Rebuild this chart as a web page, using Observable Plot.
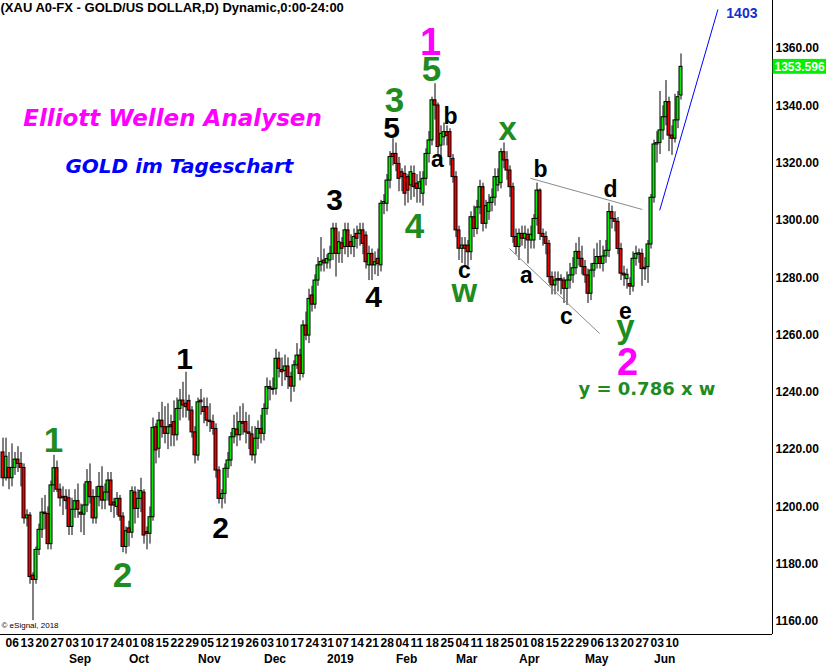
<!DOCTYPE html>
<html><head><meta charset="utf-8">
<script src="https://cdn.jsdelivr.net/npm/d3@7"></script>
<script src="https://cdn.jsdelivr.net/npm/@observablehq/plot@0.6"></script>
<style>
html,body{margin:0;padding:0;background:#fff;}
#chart svg{display:block;}
</style></head>
<body><div id="chart"></div>
<script>
// ---- Daily OHLC, XAU/USD, 2018-08-02 .. 2019-06-14 (weekdays) ----
const firstDate = "2018-08-02";
const open = [
1219,1210,1213.6,1210,1213.6,1216.5,1215,1213.6,1196,1197,
1176,1174.5,1185,1192,1198,1197.5,1187,1207.5,1213.5,1206,
1203,1203.5,1203,1193,1199,1202,1198,1197.3,1200.5,1208.6,
1203.4,1196,1203.4,1207,1202.2,1205,1209.2,1201.5,1200,1202.8,
1196.6,1186,1192.5,1191,1205,1199.3,1202.8,1205,1191.2,1190.6,
1196.4,1227.8,1220.3,1230.1,1227.8,1225.5,1228.5,1229.6,1225,1234.2,
1237.1,1236,1237,1233.6,1226,1217.9,1237.1,1234.8,1234.8,1230.1,
1229.6,1227.2,1212.7,1202.8,1204.5,1213.3,1216.2,1224.3,1227,1225,
1229.6,1229.6,1226,1225.3,1218,1223.8,1227.2,1225.5,1234.2,1241.8,
1241.2,1241.2,1251.7,1247.8,1247.4,1249,1245.3,1242,1249.4,1252.8,
1246.4,1263.3,1259.8,1273.8,1270.6,1279,1284.3,1286,1285,1286,
1288.3,1297.1,1288.3,1292,1290.7,1296.5,1292.4,1290.7,1295.3,1295.3,
1296.5,1294.7,1284.3,1288.3,1284.3,1286.6,1284.3,1305.8,1305.8,1313.9,
1323.2,1323.2,1319.7,1316.8,1316.2,1315.1,1312.2,1316.2,1312.8,1311,
1309.3,1314.5,1323.2,1327.9,1341.9,1340.1,1326.1,1329,1330.8,1330.8,
1321.5,1315.1,1296.5,1290.1,1291.2,1291.2,1288.9,1301.1,1297,1304.5,
1311.6,1298.8,1303,1306.1,1307.9,1312.2,1313,1323.8,1321,1317.4,
1311.6,1294.2,1290.7,1295.3,1293.6,1295,1293,1293,1300.5,1310.4,
1295.3,1294.2,1291.8,1280.2,1277.3,1279.5,1279.5,1279,1276.1,1279,
1280.8,1283.3,1289,1286.6,1283.7,1280.8,1274.4,1282.5,1284.8,1287.2,
1284.8,1287.4,1289.4,1302.9,1300.5,1299.5,1290,1281.4,1279.5,1277.8,
1276.9,1286.6,1288,1288.3,1283.5,1283.7,1291.6,1307.9,1326.5,1327,
1331.4,1336,1341.3,1329.6,1328.5,1334.9,1343.6];
const high = [
1224,1224,1219,1222,1219,1221,1219,1215,1199,1198,
1177,1186,1194,1203,1204,1200,1209,1218,1216,1208,
1207,1206,1206,1203,1206,1208,1201,1208,1213,1215,
1206,1207,1212,1214,1208,1212,1212,1203,1205,1204,
1198,1193,1195,1207,1207,1206,1210,1206,1193,1200,
1231,1229,1233,1236.5,1235,1236,1232,1237,1238,1241,
1243.5,1247,1239,1235,1228,1238,1241,1238,1238,1236,
1232,1229,1214,1206,1215,1219,1226,1232,1233,1235,
1236,1233,1232,1228,1228,1230,1232,1236,1245,1244,
1245,1255,1254,1252,1253,1252,1247,1251,1257,1255,
1265,1268,1276,1277,1281,1287,1294,1290,1288,1291,
1299,1299,1296,1294,1299,1299,1295,1297,1298,1299,
1299,1296,1291,1290,1289,1290,1307,1309,1316,1324,
1328.5,1327,1322,1318,1319,1316,1319,1319,1316,1317,
1317,1325,1331,1343,1347.7,1341,1333,1334,1333,1332,
1323,1317,1298,1294,1294,1293,1303,1305,1307,1314,
1313,1307,1309,1311,1318,1318,1325,1327,1324,1319,
1313,1297,1297,1298,1298,1297,1298,1302,1313,1311,
1297,1296,1293,1282,1282,1282,1281,1280,1282,1285,
1287,1292,1294,1291,1286,1283,1285,1290,1292,1293,
1291,1293,1306,1305,1303,1301,1292,1284,1283,1280,
1289,1291,1290,1290,1287,1293,1309,1328,1331,1345,
1340,1348.8,1343,1333,1344,1345,1358.1];
const low = [
1207,1209,1206,1207,1211,1212,1207,1194,1193,1173,
1160.3,1173,1183,1189,1192,1185,1185,1205,1205,1200,
1197,1199,1190,1190,1196,1196,1191,1190,1198,1201,
1194,1194,1200,1199,1199,1202,1198,1196,1197,1195,
1184,1183.5,1186,1189,1194,1196,1198,1187,1185,1187,
1195,1215,1217,1224,1222,1220,1221,1221,1223,1230,
1231,1231,1230,1224,1215,1216,1232,1229,1228,1226,
1225,1210,1201,1199.3,1201,1210,1214,1222,1221,1223,
1225,1222,1220,1216,1215,1220,1222,1223,1232,1237,
1239,1239,1245,1242,1244,1241,1236.5,1240,1248,1244,
1245,1258,1257,1268,1269,1277,1282,1282,1283,1283,
1286,1280.2,1285,1285,1288,1287,1288,1287,1290,1291,
1288,1283,1279,1279,1281,1280.4,1282,1302,1303,1311,
1319,1317,1310,1310,1305,1306,1307,1308,1306,1306,
1305,1312,1320,1326,1335,1322,1322,1326,1326,1319,
1313,1294,1286,1285,1284,1284,1286,1294,1295,1302,
1296,1297,1300,1303,1305,1310,1311,1318,1314,1308,
1292,1288,1286,1291,1290,1284.8,1290,1290,1298,1293,
1291,1288,1278,1274,1274,1275,1274,1271,1270.3,1276,
1278,1281,1284,1281,1278,1271,1272,1280,1283,1283,
1282,1285,1287,1297,1296,1288,1279,1277,1276,1273.8,
1275,1284,1285,1277,1279,1278,1290,1306,1320,1323,
1328,1333,1324,1322.7,1327,1332,1342];
const close = [
1210,1217.5,1210,1213.6,1216.5,1215,1213.6,1196,1197,1175.5,
1174.5,1185,1192,1198,1197.5,1187,1207.5,1213.5,1206,1203,
1203.5,1202,1193,1199,1202,1199,1197.3,1200.5,1208.6,1203.4,
1196,1203.4,1207,1202.2,1205,1209.2,1200.5,1200.5,1202.8,1196.6,
1186,1191.5,1191,1205.5,1199.3,1202.8,1205.5,1190,1190.6,1196.4,
1227.6,1219.7,1230.1,1227.8,1225.5,1227.8,1227.8,1225,1234.2,1237.1,
1235.4,1234.8,1233.6,1226,1218,1236.5,1236.5,1233.1,1230.1,1229.6,
1227.2,1212.7,1202.8,1204.5,1213.3,1216.2,1224.3,1227.2,1225,1229.6,
1229,1226,1225.5,1218,1223.8,1227.2,1225.5,1234.2,1241.8,1241.2,
1241.5,1251.7,1248.2,1247,1249,1245.3,1242,1249.4,1252.8,1246.4,
1263.3,1259.8,1272.6,1270.6,1279,1284.3,1285.5,1285,1286.5,1288.3,
1297.1,1288.3,1292.4,1290.1,1296.5,1290.7,1290.7,1294.2,1293.6,1296.5,
1291.8,1285.4,1288.3,1284.3,1285.4,1284.8,1305.8,1306.4,1313.9,1322.1,
1322.1,1319.7,1314.5,1315.1,1309.3,1310.4,1316.8,1311.6,1311,1313.3,
1314.5,1323.2,1327.9,1341.9,1340.1,1325.6,1330.2,1330.8,1329.5,1322.1,
1315.1,1296.5,1290.1,1291.2,1290.1,1288.9,1301.1,1297,1304.5,1311.6,
1298.8,1305,1306.1,1307.9,1315.1,1315.1,1323.8,1320.9,1317.4,1311.6,
1294.2,1290.7,1295.3,1293.6,1295.3,1293,1295,1300.5,1310.4,1295.3,
1294.2,1291.8,1280.2,1277.3,1279,1279,1279,1276.1,1279,1280.8,
1283.3,1289,1286.6,1283.7,1280.8,1274.4,1282.5,1284.8,1287.2,1284.8,
1287.4,1289.4,1302.9,1300.5,1299.5,1290,1281.4,1280.8,1281,1276.9,
1286.6,1288.3,1288.5,1283,1283,1291.6,1307.9,1326.5,1327,1331.4,
1336,1341.3,1329.6,1328.5,1334.9,1343,1353.6];
const lastTick = 1353.596;

// ---- axis labels ----
const yTicks = [1160,1180,1200,1220,1240,1260,1280,1300,1320,1340,1360];
const dayTicks = ["06","13","20","27","03","10","17","24","01","08","15","22","29",
  "05","12","19","26","03","10","17","24","31","07","14","21","28","04","11","18","25",
  "04","11","18","25","01","08","15","22","29","06","13","20","27","03","10"];
const monthTicks = ["Sep","Oct","Nov","Dec","2019","Feb","Mar","Apr","May","Jun"];
const monthDates = ["2018-09-03","2018-10-01","2018-11-01","2018-12-03","2019-01-01",
  "2019-02-01","2019-03-01","2019-04-01","2019-05-01","2019-06-03"];

// ---- Elliott wave annotations (slot = trading-day number, price = baseline level) ----
const waveText  = ["1","2", "5","3","4","1","2", "w","x","y", "5","3","4","1","2",
                   "b","a","c","b","d","a","c","e"];
const waveSlot  = [143.5,209.2, 143.8,131.5,138.2,17.8,40.8, 154.8,169.2,208.5,
                   130.5,111.5,124.5,61.5,73.5, 150.2,145.8,154.8,180.2,203.5,175.5,188.8,208.5];
const wavePrice = [1357.8,1246.1, 1348.6,1337.7,1293.7,1219.3,1172.2, 1271.5,1328.2,1259.1,
                   1328.9,1303.5,1269.6,1248,1189.3, 1333.5,1318.5,1279.8,1315,1308,1278.3,1263.7,1265.6];
const waveDegree = ["pink","pink","green","green","green","green","green","greenL","greenL","greenL",
                   "black","black","black","black","black","abc","abc","abc","abc","abc","abc","abc","abc"];
// trend lines: [slot1, price1, slot2, price2]
const upperLine = [176.8,1314.7,214.1,1303.8];
const lowerLine = [169.8,1290.2,199.9,1260.5];
const targetLine = [219.9,1303.5,239.3,1373.6];
const targetText = "1403";

// ---- helpers ----
const isWd = d => { const w = d.getUTCDay(); return w > 0 && w < 6; };
function slotOf(s) {
  const d = new Date("2018-08-01T00:00:00Z"), t = new Date(s + "T00:00:00Z");
  let k = 0;
  while (d < t) { d.setUTCDate(d.getUTCDate() + 1); if (isWd(d)) k++; }
  return k;
}
const dates = [];
{ const d = new Date(firstDate + "T00:00:00Z");
  while (dates.length < close.length) { if (isWd(d)) dates.push(new Date(d)); d.setUTCDate(d.getUTCDate() + 1); } }
const bars = close.map((c, k) => ({slot: k + 1, date: dates[k], o: open[k], h: high[k], l: low[k], c}));
const mondaySlots = bars.filter(b => b.date.getUTCDay() === 1).map(b => b.slot);
const weekMap = new Map(mondaySlots.map((s, k) => [s, dayTicks[k]]));
const monthSlots = monthDates.map(slotOf);
const monthMap = new Map(monthSlots.map((s, k) => [s, monthTicks[k]]));

const waves = waveText.map((t, k) => ({t, slot: waveSlot[k], price: wavePrice[k], kind: waveDegree[k]}));
const waveStyle = {
  pink:   {fill: "#ff00ff", fontSize: 38},
  green:  {fill: "#1f8c1f", fontSize: 35},
  greenL: {fill: "#1f8c1f", fontSize: 33},
  black:  {fill: "#000000", fontSize: 30},
  abc:    {fill: "#000000", fontSize: 23}
};

const X0 = 1/6, X1 = 257.5, Y0 = 1155.46, Y1 = 1376.75;
const GREEN = "#00ee00", RED = "#f00000";
const body2 = d => Math.abs(d.c - d.o) < 0.35 ? d.o - 0.35 : d.c;
const FONT = "Arial, 'Liberation Sans', Helvetica, sans-serif";
const WIDE = "'DejaVu Sans', Verdana, sans-serif";

const marks = [
  // frame (right + bottom)
  Plot.ruleX([X1], {y1: Y0, y2: Y1, stroke: "#000", strokeWidth: 1}),
  Plot.ruleY([Y0], {x1: X0, x2: X1, stroke: "#000", strokeWidth: 1}),
  // axes
  Plot.axisY({anchor: "right", ticks: yTicks, tickSize: 0, tickPadding: 3, label: null,
    tickFormat: d => d.toFixed(2), fontSize: 12, fontWeight: "bold", fill: "#000"}),
  Plot.axisX({anchor: "bottom", ticks: mondaySlots, tickSize: 0, tickPadding: 4, label: null,
    tickFormat: s => weekMap.get(s), textAnchor: "start", dx: -3.5, fontSize: 12, fontWeight: "bold", fill: "#000"}),
  Plot.axisX({anchor: "bottom", ticks: monthSlots, tickSize: 0, tickPadding: 20, label: null,
    tickFormat: s => monthMap.get(s), textAnchor: "start", fontSize: 12, fontWeight: "bold", fill: "#000"}),
  // candles
  Plot.ruleX(bars, {x: "slot", y1: "l", y2: "h", stroke: "#000", strokeWidth: 1}),
  Plot.rect(bars.filter(d => d.c >= d.o), {x1: d => d.slot - 0.5, x2: d => d.slot + 0.5, y1: "o", y2: body2,
    fill: GREEN, stroke: "#000", strokeWidth: 1}),
  Plot.rect(bars.filter(d => d.c < d.o), {x1: d => d.slot - 0.5, x2: d => d.slot + 0.5, y1: "o", y2: body2,
    fill: RED, stroke: "#000", strokeWidth: 1}),
  // trend lines
  Plot.link([upperLine, lowerLine], {x1: d => d[0], y1: d => d[1], x2: d => d[2], y2: d => d[3],
    stroke: "#8a8a8a", strokeWidth: 1}),
  Plot.link([targetLine], {x1: d => d[0], y1: d => d[1], x2: d => d[2], y2: d => d[3],
    stroke: "#0000ff", strokeWidth: 1}),
  Plot.text([targetText], {x: 247.3, y: 1370.7, text: d => d, fill: "#1030d0", fontSize: 14,
    fontWeight: "bold", lineAnchor: "bottom", textAnchor: "middle"}),
  // last price tag
  Plot.rect([lastTick], {x1: X1 + 0.2, x2: 276, y1: d => d - 2.6, y2: d => d + 2.6, fill: "#00f000"}),
  Plot.text([lastTick], {x: X1, y: d => d, text: d => d.toFixed(3), dx: 2, textAnchor: "start",
    fill: "#fff", fontSize: 12, fontWeight: "bold"}),
  // titles
  Plot.text(["(XAU A0-FX - GOLD/US DOLLAR,D) Dynamic,0:00-24:00"], {x: X0, y: 1372.9, text: d => d,
    textAnchor: "start", lineAnchor: "bottom", fontSize: 13, fontWeight: "bold", fill: "#000"}),
  Plot.text(["Elliott Wellen Analysen"], {x: 7.73, y: 1333.1, text: d => d, textAnchor: "start",
    lineAnchor: "bottom", fontSize: 23, fontWeight: "bold", fontStyle: "italic", fontFamily: WIDE, fill: "#ff00ff"}),
  Plot.text(["GOLD im Tageschart"], {x: 21.8, y: 1316.6, text: d => d, textAnchor: "start",
    lineAnchor: "bottom", fontSize: 20, fontWeight: "bold", fontStyle: "italic", fontFamily: WIDE, fill: "#0000ff"}),
  Plot.text(["y = 0.786 x w"], {x: 192.8, y: 1238.9, text: d => d, textAnchor: "start",
    lineAnchor: "bottom", fontSize: 18, fontWeight: "bold", fontFamily: WIDE, fill: "#1f8c1f"}),
  Plot.text(["© eSignal, 2018"], {x: X0, y: 1157.6, text: d => d, dx: 1, textAnchor: "start",
    lineAnchor: "bottom", fontSize: 8, fill: "#000"})
];
for (const kind of Object.keys(waveStyle)) {
  const s = waveStyle[kind];
  marks.push(Plot.text(waves.filter(w => w.kind === kind), {x: "slot", y: "price", text: "t",
    lineAnchor: "bottom", textAnchor: "middle", fontWeight: "bold", fill: s.fill, fontSize: s.fontSize}));
}

const chart = Plot.plot({
  width: 826, height: 668,
  marginLeft: 0, marginRight: 54, marginTop: 0, marginBottom: 34,
  style: {fontFamily: FONT, background: "#fff", color: "#000"},
  x: {type: "linear", domain: [X0, X1]},
  y: {type: "linear", domain: [Y0, Y1]},
  marks
});
document.getElementById("chart").append(chart);
</script></body></html>
